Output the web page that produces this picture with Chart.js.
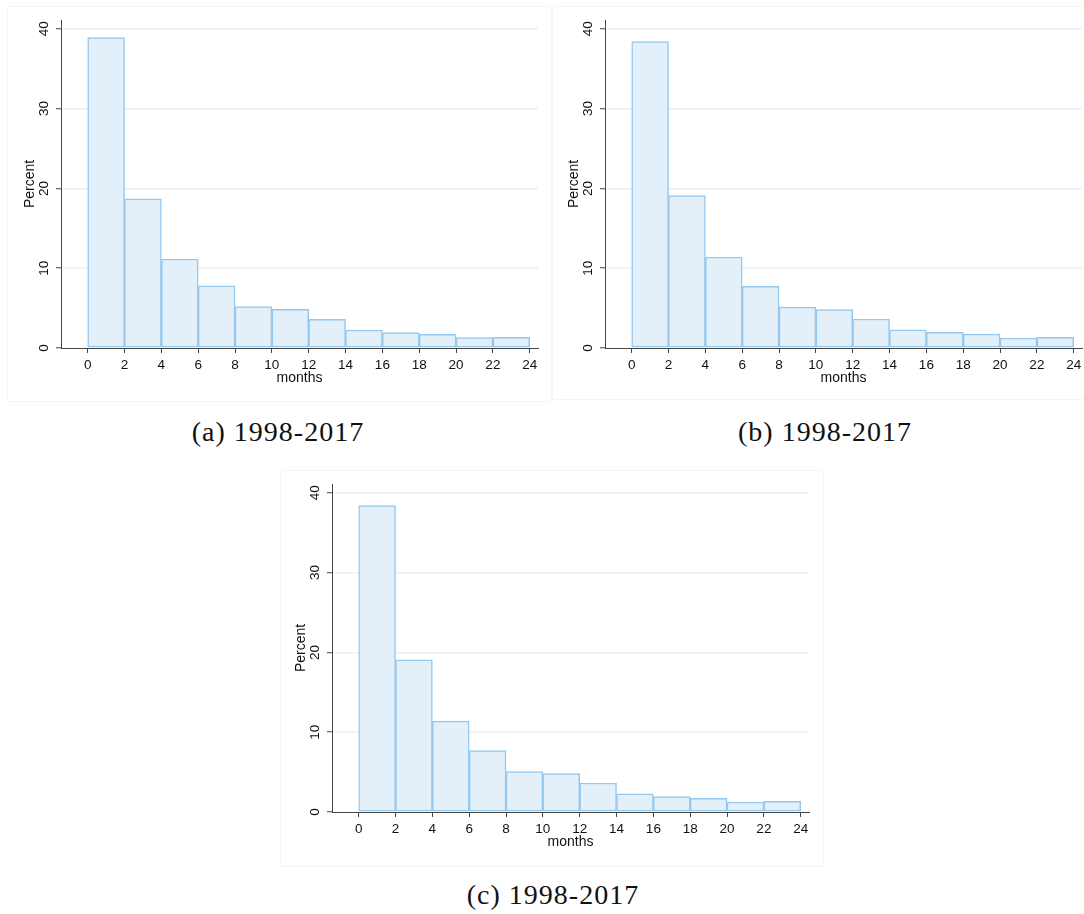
<!DOCTYPE html>
<html>
<head>
<meta charset="utf-8">
<title>Months histograms, 1998-2017</title>
<script src="https://cdn.jsdelivr.net/npm/chart.js@4/dist/chart.umd.min.js"></script>
<style>
  html, body { margin: 0; padding: 0; background: #ffffff; }
  body { width: 1084px; height: 914px; position: relative; overflow: hidden; }
  .frame { position: absolute; box-sizing: border-box; border: 1px solid #f5f5f5; }
  .panel { position: absolute; }
  .caption {
    position: absolute; text-align: center; white-space: nowrap;
    font-family: 'Liberation Serif', 'Times New Roman', serif;
    font-size: 28px; line-height: 32px; letter-spacing: 1px; color: #111;
  }
</style>
</head>
<body>
<div class="frame" style="left:7px;top:6px;width:545px;height:396px;"></div>
<div class="frame" style="left:552px;top:6px;width:534px;height:394px;"></div>
<div class="frame" style="left:280px;top:470px;width:544px;height:397px;"></div>

<canvas id="histA" class="panel" style="left:7px;top:6px;" width="533" height="396"></canvas>
<canvas id="histB" class="panel" style="left:551px;top:6px;" width="533" height="396"></canvas>
<canvas id="histC" class="panel" style="left:278px;top:470px;" width="533" height="396"></canvas>

<div class="caption" style="left:178px;top:416px;width:200px;">(a) 1998-2017</div>
<div class="caption" style="left:725px;top:416px;width:200px;">(b) 1998-2017</div>
<div class="caption" style="left:453px;top:879px;width:200px;">(c) 1998-2017</div>

<script>
// Histogram bins: start of each 2-month bin
const binStarts = [0, 2, 4, 6, 8, 10, 12, 14, 16, 18, 20, 22];
const binWidth = 2;

// Percent of spells in each bin, one array per panel
const percentA = [38.9, 18.7, 11.15, 7.8, 5.2, 4.85, 3.6, 2.25, 1.92, 1.72, 1.3, 1.33];
const percentB = [38.4, 19.1, 11.4, 7.72, 5.12, 4.8, 3.63, 2.29, 1.95, 1.74, 1.25, 1.33];
const percentC = [38.4, 19.06, 11.39, 7.71, 5.08, 4.8, 3.63, 2.29, 1.92, 1.71, 1.25, 1.33];

// Axis tick labels
const monthTicks = [0, 2, 4, 6, 8, 10, 12, 14, 16, 18, 20, 22, 24];
const percentTicks = [0, 10, 20, 30, 40];

const xTitle = 'months';
const yTitle = 'Percent';

Chart.defaults.font.family = "'Liberation Sans', Arial, Helvetica, sans-serif";
Chart.defaults.color = '#111';

const AXIS = '#444';
const GRID = '#eaf1f2';
const TEXT = '#111';

function drawHistogram(canvasId, values) {
  const points = binStarts.map((s, i) => ({ x: s + binWidth / 2, y: values[i] }));
  return new Chart(document.getElementById(canvasId), {
    type: 'bar',
    data: {
      datasets: [{
        data: points,
        backgroundColor: '#e3eff9',
        borderColor: '#96c8ee',
        borderWidth: 1.5,
        borderSkipped: false,
        barPercentage: 1.0,
        categoryPercentage: 1.0
      }]
    },
    options: {
      responsive: false,
      animation: false,
      events: [],
      layout: { padding: { left: 14.6, top: 14, right: 2, bottom: 15.6 } },
      plugins: { legend: { display: false }, tooltip: { enabled: false } },
      scales: {
        x: {
          type: 'linear',
          min: -1.45,
          max: 24.45,
          offset: false,
          grid: { display: true, drawOnChartArea: false, drawTicks: true, tickLength: 5,
                  tickColor: AXIS, tickWidth: 1, offset: false },
          border: { display: true, color: AXIS, width: 1 },
          ticks: { padding: 4.6, font: { size: 13.5 }, color: TEXT, maxRotation: 0, autoSkip: false },
          title: { display: true, text: xTitle, font: { size: 14 }, color: TEXT, padding: 0 },
          afterBuildTicks: s => { s.ticks = monthTicks.map(v => ({ value: v })); },
          afterFit: s => { s.height = 38.4; s.paddingLeft = 0; s.paddingRight = 0; }
        },
        y: {
          type: 'linear',
          min: 0,
          max: 41.1,
          grid: { display: true, drawOnChartArea: true, drawTicks: true, tickLength: 5,
                  color: ctx => (ctx.tick && ctx.tick.value === 0 ? 'rgba(0,0,0,0)' : GRID),
                  lineWidth: 1.5, tickColor: AXIS, tickWidth: 1 },
          border: { display: true, color: AXIS, width: 1 },
          ticks: { padding: 4, font: { size: 13.5 }, color: TEXT, minRotation: 90, maxRotation: 90,
                   crossAlign: 'center', autoSkip: false },
          title: { display: true, text: yTitle, font: { size: 14 }, color: TEXT, padding: 0 },
          afterBuildTicks: s => { s.ticks = percentTicks.map(v => ({ value: v })); },
          afterFit: s => { s.width = 39.4; s.paddingTop = 0; s.paddingBottom = 0; }
        }
      }
    }
  });
}

drawHistogram('histA', percentA);
drawHistogram('histB', percentB);
drawHistogram('histC', percentC);
</script>
</body>
</html>
